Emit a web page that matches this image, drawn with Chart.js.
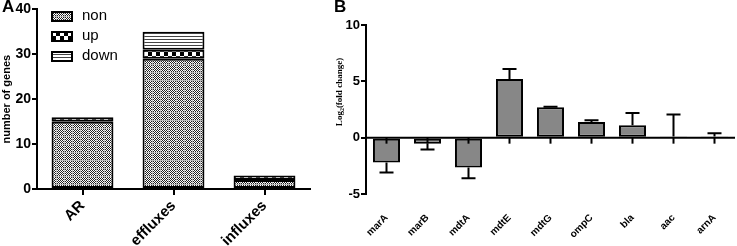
<!DOCTYPE html>
<html>
<head>
<meta charset="utf-8">
<script src="https://cdn.jsdelivr.net/npm/chart.js@4.4.0/dist/chart.umd.min.js"></script>
<style>
body { margin: 0; background: #fff; width: 737px; height: 246px; position: relative; overflow: hidden; font-family: "Liberation Sans", Arial, sans-serif; }
.box { position: absolute; top: 0; height: 246px; }
#wa { left: 0; width: 320px; }
#wb { left: 330px; width: 407px; }
.lab { position: absolute; font-weight: bold; font-size: 17px; color: #000; }
</style>
</head>
<body>
<div class="box" id="wa"><canvas id="chartA"></canvas></div>
<div class="box" id="wb"><canvas id="chartB"></canvas></div>
<div class="lab" style="left:2px;top:-3px">A</div>
<div class="lab" style="left:334px;top:-3px">B</div>
<script>
// panel A
const grupos = ['AR', 'effluxes', 'influxes'];
const genesNon = [15, 29, 2];
const genesUp = [1, 2, 1];
const genesDown = [null, 4, null];
const ticksA = [0, 10, 20, 30, 40];

// panel B
const genes = ['marA', 'marB', 'mdtA', 'mdtE', 'mdtG', 'ompC', 'bla', 'aac', 'arnA'];
const log2fc = [-2.2, -0.55, -2.65, 5.2, 2.7, 1.4, 1.1, 0.1, 0.1];
const errorFc = [0.9, 0.5, 0.95, 0.9, 0.05, 0.15, 1.1, 1.95, 0.3];
const ticksB = [-5, 0, 5, 10];

const fuente = '"Liberation Sans", Arial, sans-serif';

function patron(tipo) {
    const c = document.createElement('canvas');
    const g = c.getContext('2d');
    if (tipo === 'non') {
        c.width = 8; c.height = 8;
        g.fillStyle = '#fff'; g.fillRect(0, 0, 8, 8);
        g.fillStyle = '#222';
        for (let i = 0; i < 8; i++) {
            for (let j = 0; j < 8; j++) {
                if ((i + j) % 2 === 0) g.fillRect(i, j, 1, 1);
            }
        }
        g.fillStyle = '#bbb';
        g.fillRect(0, 0, 8, 1);
        g.fillRect(0, 0, 1, 8);
    } else if (tipo === 'up') {
        c.width = 8; c.height = 8;
        g.fillStyle = '#fff'; g.fillRect(0, 0, 8, 8);
        g.fillStyle = '#000'; g.fillRect(0, 0, 4, 4); g.fillRect(4, 4, 4, 4);
    } else {
        c.width = 3; c.height = 3;
        g.fillStyle = '#fff'; g.fillRect(0, 0, 3, 3);
        g.fillStyle = '#444'; g.fillRect(0, 0, 3, 1);
    }
    return g.createPattern(c, 'repeat');
}

// leyenda dentro del area del grafico A y titulo del eje y
const leyendaA = {
    id: 'leyendaA',
    afterDraw(chart) {
        const ctx = chart.ctx;
        ctx.save();
        chart.data.datasets.forEach(function (ds, i) {
            const y = 12 + i * 20;
            ctx.fillStyle = ds.backgroundColor;
            ctx.fillRect(52, y, 20, 9);
            ctx.strokeStyle = '#000';
            ctx.lineWidth = 2;
            ctx.strokeRect(52, y, 20, 9);
            ctx.fillStyle = '#000';
            ctx.font = '15px ' + fuente;
            ctx.textBaseline = 'middle';
            ctx.fillText(ds.label, 82, y + 4);
        });
        const a = chart.chartArea;
        ctx.translate(7, (a.top + a.bottom) / 2);
        ctx.rotate(-Math.PI / 2);
        ctx.textAlign = 'center';
        ctx.font = 'bold 11px ' + fuente;
        ctx.fillText('number of genes', 0, 0);
        ctx.restore();
    }
};

new Chart(document.getElementById('chartA'), {
    type: 'bar',
    data: {
        labels: grupos,
        datasets: [
            { label: 'non', data: genesNon, backgroundColor: patron('non') },
            { label: 'up', data: genesUp, backgroundColor: patron('up') },
            { label: 'down', data: genesDown, backgroundColor: patron('down') }
        ]
    },
    options: {
        responsive: true,
        maintainAspectRatio: false,
        animation: false,
        layout: { padding: { top: 9, right: 10, left: 0, bottom: 0 } },
        datasets: {
            bar: { borderColor: '#000', borderWidth: 2, borderSkipped: false, categoryPercentage: 1, barPercentage: 0.68 }
        },
        plugins: { legend: { display: false }, tooltip: { enabled: false } },
        scales: {
            x: {
                stacked: true,
                afterFit(s) { s.height = 57; },
                border: { color: '#000', width: 2 },
                grid: { offset: false, drawOnChartArea: false, color: '#000', lineWidth: 2, tickLength: 6 },
                ticks: { color: '#000', font: { family: fuente, size: 15, weight: 'bold' }, maxRotation: 45, minRotation: 45, padding: 2, autoSkip: false }
            },
            y: {
                stacked: true,
                min: 0, max: 40,
                afterFit(s) { s.width = 37; },
                afterBuildTicks(s) { s.ticks = ticksA.map(v => ({ value: v })); },
                border: { color: '#000', width: 2 },
                grid: { drawOnChartArea: false, color: '#000', lineWidth: 2, tickLength: 5 },
                ticks: { color: '#000', font: { family: fuente, size: 14, weight: 'bold' }, padding: 1 }
            }
        }
    },
    plugins: [leyendaA]
});

// barras de error, linea de cero y marcas del eje x en el grafico B
const extrasB = {
    id: 'extrasB',
    afterDatasetsDraw(chart) {
        const ctx = chart.ctx;
        const xs = chart.scales.x, ys = chart.scales.y;
        const y0 = ys.getPixelForValue(0);
        ctx.save();
        ctx.strokeStyle = '#000';
        ctx.lineWidth = 2;
        // linea de cero
        ctx.beginPath();
        ctx.moveTo(chart.chartArea.left, y0);
        ctx.lineTo(chart.chartArea.right, y0);
        ctx.stroke();
        log2fc.forEach(function (v, i) {
            const x = xs.getPixelForValue(i);
            // marca del eje
            ctx.beginPath();
            ctx.moveTo(x, y0);
            ctx.lineTo(x, y0 + 6);
            ctx.stroke();
            // error hacia afuera
            const sgn = v < 0 ? -1 : 1;
            const ya = ys.getPixelForValue(v);
            const yb = ys.getPixelForValue(v + sgn * errorFc[i]);
            ctx.beginPath();
            ctx.moveTo(x, ya);
            ctx.lineTo(x, yb);
            ctx.moveTo(x - 7, yb);
            ctx.lineTo(x + 7, yb);
            ctx.stroke();
        });
        // titulo del eje y con subindice
        ctx.translate(10, 92);
        ctx.rotate(-Math.PI / 2);
        ctx.fillStyle = '#000';
        ctx.textBaseline = 'middle';
        const f1 = 'bold 9px "Liberation Serif", "Times New Roman", serif';
        const f2 = 'bold 6px "Liberation Serif", "Times New Roman", serif';
        ctx.font = f1;
        const w1 = ctx.measureText('Log').width;
        const w3 = ctx.measureText('(fold change)').width;
        ctx.font = f2;
        const w2 = ctx.measureText('2').width;
        let px = -(w1 + w2 + w3) / 2;
        ctx.font = f1; ctx.fillText('Log', px, 0); px += w1;
        ctx.font = f2; ctx.fillText('2', px, 2); px += w2;
        ctx.font = f1; ctx.fillText('(fold change)', px, 0);
        ctx.restore();
    }
};

new Chart(document.getElementById('chartB'), {
    type: 'bar',
    data: {
        labels: genes,
        datasets: [
            { label: 'Log2(fold change)', data: log2fc, backgroundColor: '#878787', borderColor: '#000', borderWidth: 2, borderSkipped: false, categoryPercentage: 1, barPercentage: 0.66 }
        ]
    },
    options: {
        responsive: true,
        maintainAspectRatio: false,
        animation: false,
        layout: { padding: { top: 25, right: 2, left: 0, bottom: 0 } },
        plugins: { legend: { display: false }, tooltip: { enabled: false } },
        scales: {
            x: {
                afterFit(s) { s.height = 52; },
                border: { display: false },
                grid: { display: false },
                ticks: { color: '#000', font: { family: fuente, size: 10, weight: 'bold' }, maxRotation: 45, minRotation: 45, padding: 10, autoSkip: false }
            },
            y: {
                min: -5, max: 10,
                afterFit(s) { s.width = 36; },
                afterBuildTicks(s) { s.ticks = ticksB.map(v => ({ value: v })); },
                border: { color: '#000', width: 2 },
                grid: { drawOnChartArea: false, color: '#000', lineWidth: 2, tickLength: 5 },
                ticks: { color: '#000', font: { family: fuente, size: 13, weight: 'bold' }, padding: 1 }
            }
        }
    },
    plugins: [extrasB]
});
</script>
</body>
</html>
